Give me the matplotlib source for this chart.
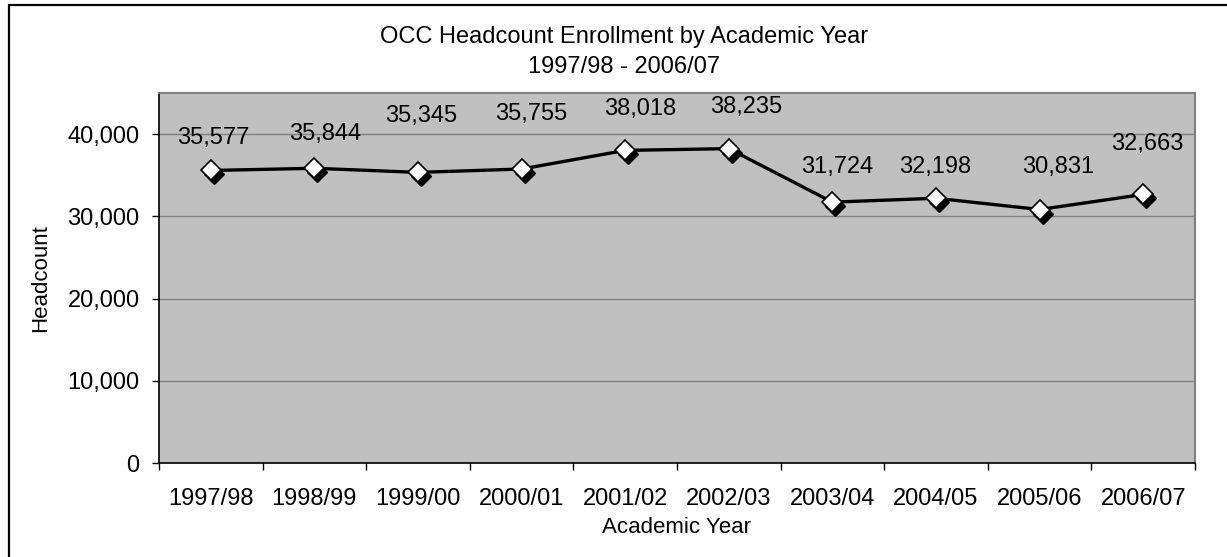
import matplotlib
matplotlib.use("Agg")
import matplotlib.pyplot as plt
import matplotlib.transforms as mtransforms
from matplotlib.patches import Rectangle
from matplotlib.ticker import FuncFormatter, FixedLocator

years = ["1997/98", "1998/99", "1999/00", "2000/01", "2001/02",
         "2002/03", "2003/04", "2004/05", "2005/06", "2006/07"]
headcount = [35577, 35844, 35345, 35755, 38018, 38235, 31724, 32198, 30831, 32663]
# label offsets (pixels) relative to each point, as placed in the reference
label_dx = [2, 11, 3, 10, 15, 17, 5, -1, 19, 4]
label_dy = [32, 34, 56, 55, 41, 42, 35, 31, 43, 50]

plt.rcParams['font.family'] = ['Liberation Sans', 'DejaVu Sans']

W, H = 1227, 557
fig = plt.figure(figsize=(W / 100, H / 100), dpi=100)
fig.patch.set_facecolor('white')

ax = fig.add_axes([159 / W, 1 - 463 / H, (1195 - 159) / W, (463 - 93) / H])
ax.set_facecolor('#C0C0C0')

x = list(range(len(years)))
ax.set_xlim(-0.5, len(years) - 0.5)
ax.set_ylim(0, 45000)

ax.yaxis.set_major_locator(FixedLocator([0, 10000, 20000, 30000, 40000]))
ax.yaxis.set_major_formatter(FuncFormatter(lambda v, p: f"{int(v):,}"))
ax.grid(axis='y', color='#808080', linewidth=1.0)
ax.set_axisbelow(True)

# x ticks at category boundaries, labels centered
ax.xaxis.set_major_locator(FixedLocator([i - 0.5 for i in range(len(years) + 1)]))
ax.xaxis.set_minor_locator(FixedLocator(x))
ax.set_xticklabels([])
ax.set_xticklabels(years, minor=True)
ax.tick_params(axis='x', which='major', direction='out', length=5, width=1, color='black')
ax.tick_params(axis='x', which='minor', length=0, pad=18, labelsize=17)
ax.tick_params(axis='y', direction='out', length=5, width=1, pad=9, labelsize=17)

for s in ['top', 'right']:
    ax.spines[s].set_color('#808080')
    ax.spines[s].set_linewidth(1.5)
for s in ['left', 'bottom']:
    ax.spines[s].set_color('black')
    ax.spines[s].set_linewidth(1.2)

ax.plot(x, headcount, color='black', linewidth=2.4, zorder=3)
shadow = mtransforms.offset_copy(ax.transData, fig=fig, x=3, y=-4, units='dots')
ax.plot(x, headcount, linestyle='none', marker='D', markersize=10.5,
        markerfacecolor='black', markeredgecolor='black', transform=shadow, zorder=4)
ax.plot(x, headcount, linestyle='none', marker='D', markersize=10.5,
        markerfacecolor='white', markeredgecolor='black', markeredgewidth=1.2, zorder=5)

for xi, yi, dx, dy in zip(x, headcount, label_dx, label_dy):
    ax.annotate(f"{yi:,}", (xi, yi), xytext=(dx, dy), textcoords='offset pixels',
                ha='center', va='center', fontsize=17, zorder=6)

ax.set_xlabel("Academic Year", fontsize=16, labelpad=5)
ax.set_ylabel("Headcount", fontsize=16, labelpad=12)

fig.text(624 / W, 1 - 37 / H, "OCC Headcount Enrollment by Academic Year",
         ha='center', va='center', fontsize=17)
fig.text(624 / W, 1 - 67 / H, "1997/98 - 2006/07",
         ha='center', va='center', fontsize=17)

border = Rectangle((8.5 / W, -0.2), 1.2, 1.2 - 4.5 / H, transform=fig.transFigure,
                   fill=False, edgecolor='black', linewidth=1.6, clip_on=False)
fig.patches.append(border)

fig.savefig("out.png", dpi=100)
